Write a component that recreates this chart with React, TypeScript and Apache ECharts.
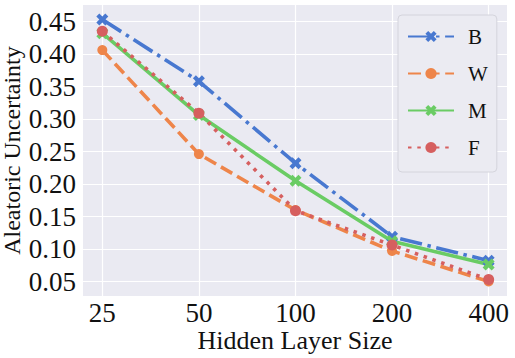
import React, { useEffect, useRef } from "react";
import * as echarts from "echarts";

const categories = ["25", "50", "100", "200", "400"];
const seriesNames = ["B", "W", "M", "F"];
const bValues = [0.453, 0.358, 0.232, 0.119, 0.082];
const wValues = [0.406, 0.246, 0.16, 0.097, 0.05];
const mValues = [0.432, 0.306, 0.205, 0.112, 0.076];
const fValues = [0.435, 0.309, 0.159, 0.106, 0.053];
const yTicks = [0.05, 0.1, 0.15, 0.2, 0.25, 0.3, 0.35, 0.4, 0.45];

const FONT = "Liberation Serif";
const X_SYMBOL =
  "path://M-1,-0.5L-0.5,-1L0,-0.5L0.5,-1L1,-0.5L0.5,0L1,0.5L0.5,1L0,0.5L-0.5,1L-1,0.5L-0.5,0Z";

export default function App() {
  const ref = useRef<HTMLDivElement>(null);
  useEffect(() => {
    if (!ref.current) return;
    const chart = echarts.init(ref.current, undefined, { renderer: "svg" });
    const toPts = (vals: number[]) => vals.map((v, i) => [i, v]);
    const lw = 3.6;
    const mk = (
      name: string,
      vals: number[],
      color: string,
      dash: number[] | "solid",
      symbol: string,
      size: number
    ) => ({
      name,
      type: "line",
      data: toPts(vals),
      symbol,
      symbolSize: size,
      showSymbol: true,
      lineStyle: {
        color,
        width: lw,
        type: dash,
        cap: "butt",
        join: "round",
      },
      itemStyle: { color, borderWidth: 0 },
      emphasis: { disabled: true },
    });
    chart.setOption({
      animation: false,
      backgroundColor: "#ffffff",
      textStyle: { fontFamily: FONT },
      grid: {
        left: 83,
        right: 8,
        top: 5,
        bottom: 62,
        outerBoundsMode: "none",
        containLabel: false,
        show: true,
        backgroundColor: "#eaeaf2",
        borderWidth: 0,
      },
      legend: {
        show: true,
        orient: "vertical",
        left: 398,
        top: 15,
        padding: [11, 9, 14, 9],
        itemWidth: 46,
        itemHeight: 14,
        itemGap: 16,
        backgroundColor: "#ebebf2",
        borderColor: "#d4d4dc",
        borderWidth: 1,
        borderRadius: 4,
        data: seriesNames,
        textStyle: {
          fontFamily: FONT,
          fontSize: 21,
          color: "#111111",
          padding: [0, 0, 0, 9],
        },
      },
      xAxis: {
        type: "value",
        min: -0.2,
        max: 4.19,
        name: "Hidden Layer Size",
        nameLocation: "middle",
        nameGap: 31,
        nameMoveOverlap: false,
        nameTextStyle: { fontFamily: FONT, fontSize: 26, color: "#111111" },
        axisLine: { show: false },
        axisTick: { show: false, customValues: [0, 1, 2, 3, 4] },
        axisLabel: {
          customValues: [0, 1, 2, 3, 4],
          formatter: (v: number) => categories[Math.round(v)],
          fontFamily: FONT,
          fontSize: 27,
          color: "#111111",
          margin: 3,
        },
        splitLine: { show: true, lineStyle: { color: "#ffffff", width: 1.2 } },
      },
      yAxis: {
        type: "value",
        min: 0.0277,
        max: 0.4754,
        name: "Aleatoric Uncertainty",
        nameLocation: "middle",
        nameGap: 59,
        nameMoveOverlap: false,
        nameTextStyle: { fontFamily: FONT, fontSize: 24, color: "#111111" },
        axisLine: { show: false },
        axisTick: { show: false, customValues: yTicks },
        axisLabel: {
          customValues: yTicks,
          formatter: (v: number) => v.toFixed(2),
          fontFamily: FONT,
          fontSize: 27,
          color: "#111111",
          margin: 7,
        },
        splitLine: { show: true, lineStyle: { color: "#ffffff", width: 1.2 } },
      },
      series: [
        mk("B", bValues, "#4878d0", [22.4, 5.6, 3.5, 5.6], X_SYMBOL, 12),
        mk("W", wValues, "#ee854a", [13, 5.6], "circle", 10),
        mk("M", mValues, "#6acc64", "solid", X_SYMBOL, 12),
        mk("F", fValues, "#d65f5f", [3.5, 5.8], "circle", 11),
      ],
    });
    return () => chart.dispose();
  }, []);
  return (
    <div
      ref={ref}
      style={{ position: "fixed", left: 0, top: 0, width: 515, height: 358 }}
    />
  );
}
